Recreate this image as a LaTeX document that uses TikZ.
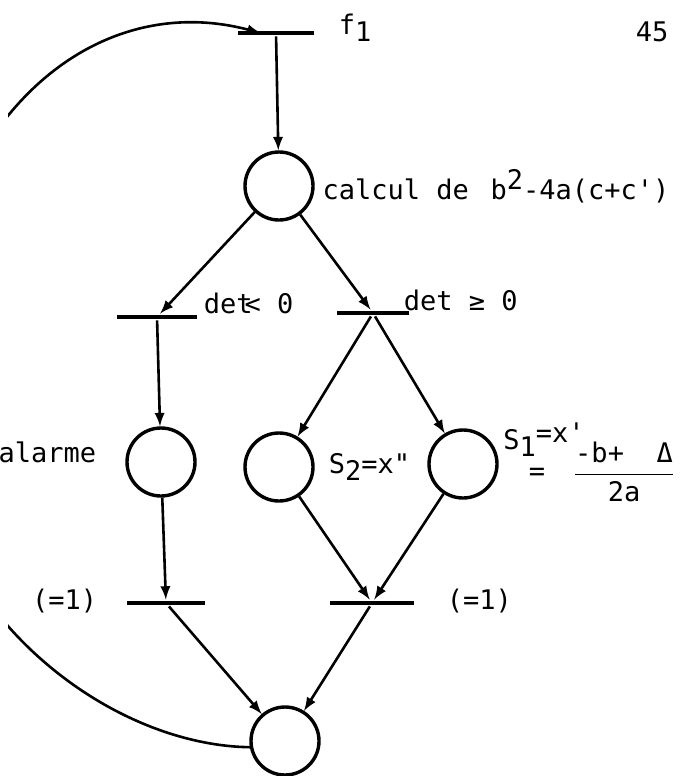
\documentclass[tikz,border=0pt]{standalone}
\usepackage{amsmath}
\usepackage{fontspec}
\newfontfamily\typewr{DejaVu Sans Mono}
\usetikzlibrary{positioning}
\tikzstyle{place}=[draw,circle,line width=1.7pt,minimum size=34pt,inner sep=0pt]
\tikzstyle{trans}=[fill,rectangle,inner sep=0pt,minimum height=2.1pt]
\tikzstyle{every node}=[font=\typewr\fontsize{13.5}{16}\selectfont]
\newcommand{\low}[1]{\raisebox{-.5ex}{#1}}
\newcommand{\high}[1]{\raisebox{.7ex}{#1}}

\begin{document}
\begin{tikzpicture}[x=0.5pt,y=-0.5pt,>=latex,line width=1.3pt]
  \useasboundingbox (0,0) rectangle (683,776);
  \node[trans,minimum width=38pt] (f1) at (276,33) {};
  \node[place] (calc) at (279,186) {};
  \node[trans,minimum width=40pt] (tneg) at (157,317) {};
  \node[trans,minimum width=36pt] (tpos) at (373,313) {};
  \node[place] (alarm) at (161,462) {};
  \node[place] (s2) at (279,467) {};
  \node[place] (s1) at (463,464) {};
  \node[trans,minimum width=39pt] (tleft) at (166,603) {};
  \node[trans,minimum width=42pt] (tright) at (372,603) {};
  \node[place] (fin) at (285,741) {};
  \coordinate (f1in) at ([xshift=12pt]f1.west);
  % labels
  \node[anchor=west] (lf1) at (331,28) {f\low{1}};
  \node (l45) at (652,32) {45};
  \node[right=0pt of calc] (lcalc) {calcul de\hspace{.8em}b\high{2}-4a(c+c\textquotesingle)};
  \node[anchor=west] (lneg) at (196,303) {det\kern-.3em< 0};
  \node[anchor=west] (lpos) at (396,300) {det ≥ 0};
  \node[anchor=east] (lalarm) at (104,452) {alarme};
  \node[anchor=east] (lleft) at (105,601) {(=1)};
  \node[anchor=west] (lright) at (439,601) {(=1)};
  \node[anchor=west] (ls2) at (321,467) {S\low{2}=x\textquotedbl};
  \node[anchor=west,inner sep=0pt] (ls1) at (502,440) {S\low{1}\raisebox{.45ex}{=x\textquotesingle}};
  \node[inner sep=0pt] (ls1eq) at (537,474) {=};
  \node (ls1frac) at (624,472) {$\dfrac{\mbox{-b+\ \ Δ}}{\mbox{2a}}$};
  % arcs
  \draw[->] (f1) -- (calc);
  \draw[->] (calc) -- (tneg);
  \draw[->] (calc) -- (tpos);
  \draw[->] (tneg) -- (alarm);
  \draw[->] (tpos) -- (s2);
  \draw[->] (tpos) -- (s1);
  \draw[->] (alarm) -- (tleft);
  \draw[->] (s2) -- (tright);
  \draw[->] (s1) -- (tright);
  \draw[->] (tleft) -- (fin);
  \draw[->] (tright) -- (fin);
  \begin{scope}
    \clip (8,0) rectangle (683,776);
    \draw[->] (fin.190) .. controls (100,745) and (-80,600) .. (-80,400)
      .. controls (-80,140) and (80,-15) .. (f1in);
  \end{scope}
\end{tikzpicture}
\end{document}
